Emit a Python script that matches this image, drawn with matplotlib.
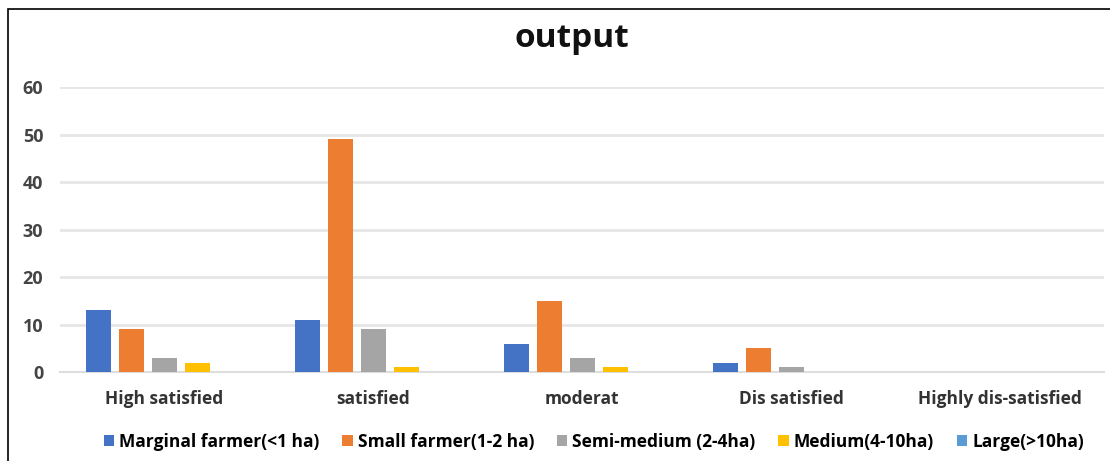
import numpy as np
import matplotlib.pyplot as plt
from matplotlib.patches import Rectangle

# Data
categories = ['High satisfied', 'satisfied', 'moderat', 'Dis satisfied', 'Highly dis-satisfied']
series_names = ['Marginal farmer(<1 ha)', 'Small farmer(1-2 ha)', 'Semi-medium (2-4ha)',
                'Medium(4-10ha)', 'Large(>10ha)']
marginal = [13, 11, 6, 2, 0]
small = [9, 49, 15, 5, 0]
semi_medium = [3, 9, 3, 1, 0]
medium = [2, 1, 1, 0, 0]
large = [0, 0, 0, 0, 0]
colors = ['#4472C4', '#ED7D31', '#A5A5A5', '#FFC000', '#5B9BD5']

plt.rcParams['font.family'] = ['Open Sans', 'DejaVu Sans']

fig = plt.figure(figsize=(11.1, 4.61), dpi=100)
ax = fig.add_axes([0.054, 0.193, 0.941, 0.618])

x = np.arange(len(categories))
stride = 0.158
width = 0.12
all_series = [marginal, small, semi_medium, medium, large]
for i, (vals, name, c) in enumerate(zip(all_series, series_names, colors)):
    ax.bar(x + (i - 2) * stride, vals, width, color=c, label=name, zorder=3)

ax.set_xlim(-0.5, len(categories) - 0.5)
ax.set_ylim(0, 60)
ax.set_yticks(range(0, 61, 10))
ax.yaxis.grid(True, color='#e6e6e6', linewidth=2, zorder=0)
ax.set_axisbelow(True)
for s in ['top', 'right', 'left']:
    ax.spines[s].set_visible(False)
ax.spines['bottom'].set_color('#dddddd')
ax.spines['bottom'].set_linewidth(1.5)
ax.tick_params(length=0)
ax.set_xticks(x)
ax.set_xticklabels(categories, fontsize=12.5, fontweight='bold', color='#333333')
ax.tick_params(axis='x', pad=13)
ax.tick_params(axis='y', pad=12)
for lbl in ax.get_yticklabels():
    lbl.set_fontsize(13)
    lbl.set_fontweight('bold')
    lbl.set_color('#444444')

fig.text(0.515, 0.917, 'output', ha='center', va='center', fontsize=24, fontweight='bold',
         color='#111111')

fig.legend(loc='center', bbox_to_anchor=(0.535, 0.042), ncol=5, frameon=False,
           handlelength=0.6, handleheight=0.6, handletextpad=0.3,
           columnspacing=1.3, prop={'weight': 'bold', 'size': 12.5})

# frame around the figure
fig.patches.append(Rectangle((0.007, -0.05), 1.1, 1.03, transform=fig.transFigure,
                             fill=False, edgecolor='black', linewidth=1.2))

fig.savefig('out.png', dpi=100)
